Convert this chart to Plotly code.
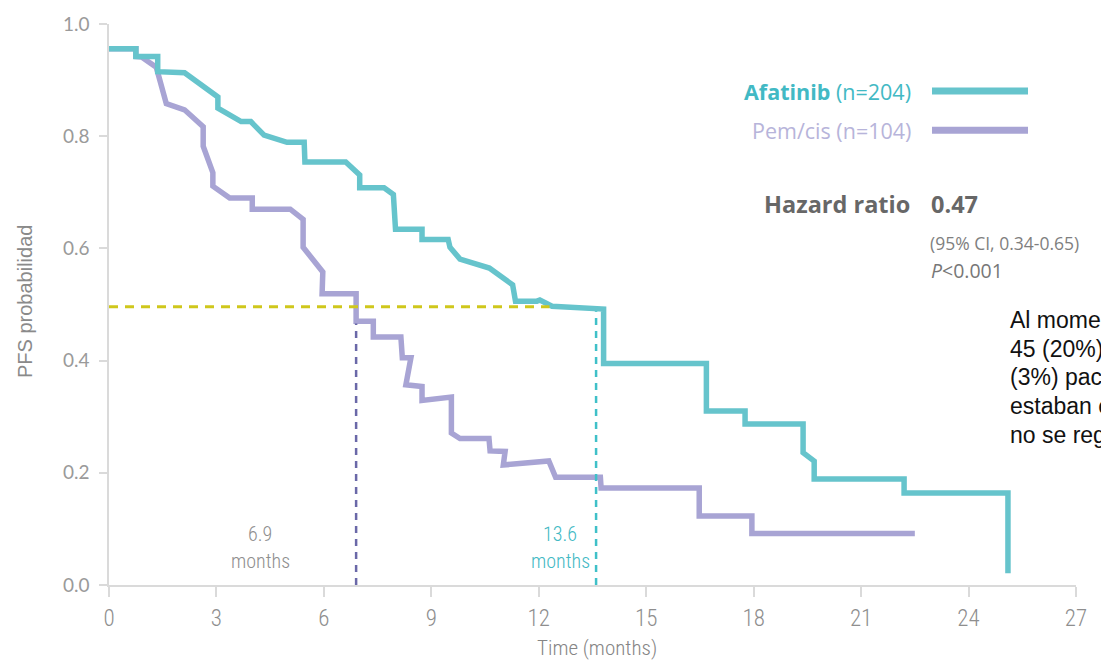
import plotly.graph_objects as go

# Kaplan-Meier progression-free survival, afatinib vs pemetrexed/cisplatin
afatinib_months = [0, 0.75, 0.75, 1.36, 1.36, 2.11, 3.04, 3.04, 3.69, 3.96, 4.33, 4.97,
                   5.45, 5.47, 6.61, 7.00, 7.00, 7.68, 7.94, 8.00, 8.74, 8.74, 9.47, 9.52,
                   9.80, 10.62, 11.27, 11.35, 11.95, 12.03, 12.37, 13.53, 13.81, 13.81,
                   16.68, 16.68, 17.76, 17.76, 19.38, 19.38, 19.69, 19.69, 22.20, 22.20,
                   25.10, 25.10]
afatinib_pfs = [0.956, 0.956, 0.942, 0.942, 0.915, 0.913, 0.870, 0.850, 0.826, 0.826, 0.802,
                0.789, 0.789, 0.754, 0.754, 0.731, 0.708, 0.708, 0.696, 0.634, 0.634, 0.616,
                0.616, 0.602, 0.581, 0.565, 0.535, 0.506, 0.506, 0.508, 0.497, 0.493, 0.492,
                0.395, 0.395, 0.310, 0.310, 0.287, 0.287, 0.236, 0.221, 0.189, 0.189, 0.164,
                0.164, 0.021]

pemcis_months = [0, 0.75, 0.75, 0.91, 1.32, 1.60, 2.11, 2.63, 2.63, 2.90, 2.90, 3.37, 4.00,
                 4.00, 5.06, 5.42, 5.42, 5.97, 5.95, 6.90, 6.90, 7.38, 7.38, 8.15, 8.19,
                 8.43, 8.29, 8.74, 8.74, 9.56, 9.56, 9.80, 10.61, 10.64, 11.06, 11.01,
                 12.28, 12.47, 13.72, 13.74, 16.48, 16.48, 17.95, 17.95, 22.50]
pemcis_pfs = [0.956, 0.956, 0.942, 0.941, 0.923, 0.858, 0.847, 0.817, 0.782, 0.735, 0.711,
              0.690, 0.690, 0.670, 0.670, 0.652, 0.602, 0.558, 0.519, 0.519, 0.470, 0.470,
              0.442, 0.442, 0.405, 0.405, 0.357, 0.354, 0.329, 0.335, 0.271, 0.261, 0.261,
              0.239, 0.238, 0.214, 0.221, 0.192, 0.192, 0.173, 0.173, 0.123, 0.123, 0.092,
              0.092]

# Median PFS markers
median_level = 0.496
median_level_end = 12.3
median_months = [6.9, 13.6]
median_drop_tops = [0.466, 0.488]
median_labels = ["6.9", "13.6"]

x_ticks = [0, 3, 6, 9, 12, 15, 18, 21, 24, 27]
y_ticks = [0.0, 0.2, 0.4, 0.6, 0.8, 1.0]

TEAL = "#66c4cc"
TEAL_TEXT = "#42b9c4"
PURPLE = "#a8a4d4"
PURPLE_TEXT = "#b7b4da"
PURPLE_DARK = "#6a68a8"
TEAL_DARK = "#3fc0c8"
YELLOW = "#cfc71c"
GREY = "#8e8e8e"

fig = go.Figure()

# pem/cis first so afatinib sits on top where the curves overlap at the start
fig.add_trace(go.Scatter(x=pemcis_months, y=pemcis_pfs, mode="lines",
                         line=dict(color=PURPLE, width=5.5), cliponaxis=False,
                         showlegend=False, hoverinfo="skip"))
fig.add_trace(go.Scatter(x=afatinib_months, y=afatinib_pfs, mode="lines",
                         line=dict(color=TEAL, width=5.5), cliponaxis=False,
                         showlegend=False, hoverinfo="skip"))

# horizontal median guide
fig.add_trace(go.Scatter(x=[0, median_level_end], y=[median_level, median_level], mode="lines",
                         line=dict(color=YELLOW, width=3, dash="9px,7px"),
                         showlegend=False, hoverinfo="skip"))
# vertical median drops
for m, top, c in zip(median_months, median_drop_tops, [PURPLE_DARK, TEAL_DARK]):
    fig.add_trace(go.Scatter(x=[m, m], y=[0, top], mode="lines",
                             line=dict(color=c, width=2.5, dash="7px,6px"),
                             showlegend=False, hoverinfo="skip"))

PL, PR, PT, PB = 109, 1076, 20, 585  # plot area in pixels
W, H = 1101, 660


def px(x):
    return (x - PL) / (PR - PL)


def py(y):
    return (PB - y) / (PB - PT)


ann = []
SANS = "Open Sans"
COND = "Liberation Sans Narrow, Roboto Condensed, Roboto"
ARIAL = "Liberation Sans, Arial"


def add_text(text, x, y, size, color, family=SANS, xanchor="left", angle=0, weight=None):
    font = dict(size=size, color=color, family=family)
    if weight:
        font["weight"] = weight
    ann.append(dict(text=text, x=px(x), y=py(y), xref="paper", yref="paper",
                    xanchor=xanchor, yanchor="middle", showarrow=False, textangle=angle,
                    font=font))


# legend labels
add_text("<b>Afatinib</b> (n=204)", 913, 88, 21.5, TEAL_TEXT, xanchor="right")
add_text("Pem/cis (n=104)", 913, 127, 21.5, PURPLE_TEXT, xanchor="right")

# hazard ratio block
add_text("<b>Hazard ratio</b>", 912, 201, 23.5, "#676767", xanchor="right")
add_text("<b>0.47</b>", 929, 201, 23.5, "#676767")
add_text("(95% CI, 0.34-0.65)", 928, 241, 17.5, "#7f7f7f")
add_text("<i>P</i><0.001", 929, 268, 19.5, "#777777")

# median labels (number above, unit below)
for lab, cx, col in zip(median_labels, [260, 560], [GREY, TEAL_TEXT]):
    ann.append(dict(text=lab, x=px(cx), y=py(547), xref="paper", yref="paper",
                    xanchor="center", yanchor="bottom", showarrow=False, borderpad=0,
                    font=dict(size=20, color=col, family=COND, weight=300)))
    ann.append(dict(text="months", x=px(cx), y=py(548), xref="paper", yref="paper",
                    xanchor="center", yanchor="top", showarrow=False, borderpad=0,
                    font=dict(size=20, color=col, family=COND, weight=300)))

# side note
note_lines = ["Al momento del análisis,", "45 (20%) y 3", "(3%) pacientes",
              "estaban en tratamiento y", "no se registró progresión"]
for i, line in enumerate(note_lines):
    add_text(line, 1008, 318 + 29 * i, 23, "#111111", family=ARIAL)

# axis titles
add_text("PFS probabilidad", 25, 300, 20, "#8a8a8a", family=ARIAL,
         xanchor="center", angle=-90)
add_text("Time (months)", 597, 648, 21, "#858585", family=COND, xanchor="center", weight=300)

shapes = []
for y, c in [(87.5, TEAL), (127, PURPLE)]:
    shapes.append(dict(type="line", xref="paper", yref="paper", x0=px(932), x1=px(1028),
                       y0=py(y), y1=py(y), line=dict(color=c, width=7)))

fig.update_layout(
    width=W, height=H,
    margin=dict(l=PL, r=W - PR, t=PT, b=H - PB),
    plot_bgcolor="white", paper_bgcolor="white",
    annotations=ann, shapes=shapes,
    xaxis=dict(range=[0, 27], tickvals=x_ticks, showgrid=False, zeroline=False,
               showline=True, linecolor="#dadada", linewidth=1.5,
               ticks="outside", ticklen=10, tickcolor="#dadada", tickwidth=1.5,
               ticklabelstandoff=2,
               tickfont=dict(family=COND, size=23, color=GREY, weight=300)),
    yaxis=dict(range=[0, 1.0], tickvals=y_ticks, tickformat=".1f", showgrid=False,
               zeroline=False, showline=True, linecolor="#dadada", linewidth=1.5,
               ticks="outside", ticklen=8, tickcolor="#dadada", tickwidth=1.5,
               ticklabelstandoff=6,
               tickfont=dict(family="Lato", size=19, color="#9a9a9a")),
)

fig.write_html("out.html")
